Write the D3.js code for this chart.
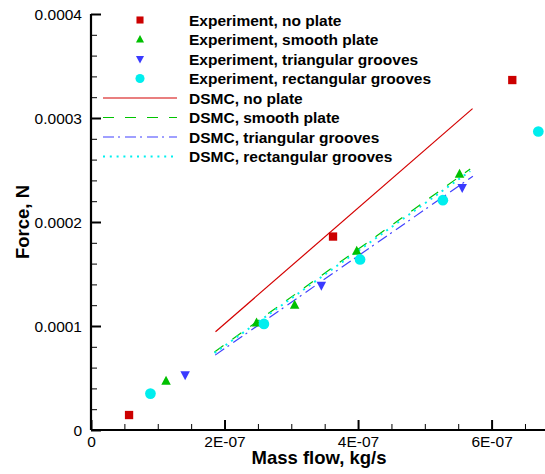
<!DOCTYPE html>
<html>
<head>
<meta charset="utf-8">
<script src="https://cdn.jsdelivr.net/npm/d3@7"></script>
<style>
  html, body { margin: 0; padding: 0; background: #fff; }
  svg { display: block; }
  text { font-family: "Liberation Sans", Arial, Helvetica, sans-serif; }
</style>
</head>
<body>
<svg id="chart" width="545" height="474"></svg>
<script>
// ---- data (mass flow in kg/s, force in N) ----
const expNoPlateX = [0.57e-7, 3.625e-7, 6.31e-7];
const expNoPlateY = [0.144e-4, 1.86e-4, 3.365e-4];
const expSmoothX = [1.124e-7, 2.48e-7, 3.05e-7, 3.98e-7, 5.52e-7];
const expSmoothY = [0.47e-4, 1.03e-4, 1.20e-4, 1.72e-4, 2.46e-4];
const expTriX = [1.41e-7, 3.45e-7, 5.56e-7];
const expTriY = [0.53e-4, 1.39e-4, 2.33e-4];
const expRectX = [0.89e-7, 2.59e-7, 4.03e-7, 5.27e-7, 6.70e-7];
const expRectY = [0.35e-4, 1.02e-4, 1.64e-4, 2.21e-4, 2.87e-4];

const dsmcNoPlateX = [1.865e-7, 5.715e-7];
const dsmcNoPlateY = [0.945e-4, 3.09e-4];
const dsmcSmoothX = [1.85e-7, 5.68e-7];
const dsmcSmoothY = [0.75e-4, 2.51e-4];
const dsmcTriX = [1.86e-7, 5.72e-7];
const dsmcTriY = [0.72e-4, 2.44e-4];
const dsmcRectX = [1.85e-7, 5.68e-7];
const dsmcRectY = [0.74e-4, 2.49e-4];

const xMajorTicks = [0, 2e-7, 4e-7, 6e-7];
const xTickLabels = ["0", "2E-07", "4E-07", "6E-07"];
const yMajorTicks = [0, 1e-4, 2e-4, 3e-4, 4e-4];
const yTickLabels = ["0", "0.0001", "0.0002", "0.0003", "0.0004"];

const legendLabels = [
  "Experiment, no plate",
  "Experiment, smooth plate",
  "Experiment, triangular grooves",
  "Experiment, rectangular grooves",
  "DSMC, no plate",
  "DSMC, smooth plate",
  "DSMC, triangular grooves",
  "DSMC, rectangular grooves"
];

// ---- setup ----
const svg = d3.select("#chart");
const x = d3.scaleLinear().domain([0, 6.8e-7]).range([91, 545]);
const y = d3.scaleLinear().domain([0, 4e-4]).range([430, 14]);

const RED = "#d40000", GREEN = "#00c400", BLUE = "#4040ff", CYAN = "#00f0f0";

// ---- axes ----
const xMinor = d3.range(0, 6.8e-7 + 1e-12, 0.5e-7).filter(v => xMajorTicks.every(m => Math.abs(m - v) > 1e-12));
const yMinor = d3.range(0, 4e-4 + 1e-12, 0.2e-4).filter(v => yMajorTicks.every(m => Math.abs(m - v) > 1e-12));

const gx = svg.append("g").attr("transform", "translate(0,430)");
gx.call(d3.axisBottom(x).tickValues(xMinor).tickSize(-6).tickFormat(""));
gx.call(g => g.select(".domain").remove());
const gx2 = svg.append("g").attr("transform", "translate(0,430)");
gx2.call(d3.axisBottom(x).tickValues(xMajorTicks).tickSize(-10).tickPadding(18)
  .tickFormat((d, i) => xTickLabels[i]));
gx2.select(".domain").attr("stroke-width", 2.2).attr("d", "M91,0H545");
gx2.selectAll(".tick line").attr("stroke-width", 2);
gx2.selectAll(".tick text").attr("font-size", "15.5px").attr("fill", "#000").attr("dy", 0).attr("y", 16.5);

const gy = svg.append("g").attr("transform", "translate(91,0)");
gy.call(d3.axisLeft(y).tickValues(yMinor).tickSize(-6).tickFormat(""));
gy.call(g => g.select(".domain").remove());
const gy2 = svg.append("g").attr("transform", "translate(91,0)");
gy2.call(d3.axisLeft(y).tickValues(yMajorTicks).tickSize(-10).tickPadding(9)
  .tickFormat((d, i) => yTickLabels[i]));
gy2.select(".domain").attr("stroke-width", 2.2).attr("d", "M0,14V430");
gy2.selectAll(".tick line").attr("stroke-width", 2);
gy2.selectAll(".tick text").attr("font-size", "15.5px").attr("fill", "#000").attr("x", -9).attr("dy", "0.35em");
svg.selectAll(".tick line").attr("stroke", "#000");

// axis titles
svg.append("text").attr("x", 319).attr("y", 464).attr("text-anchor", "middle")
  .attr("font-size", "18.5px").attr("font-weight", "bold").text("Mass flow, kg/s");
svg.append("text").attr("transform", "translate(29,222) rotate(-90)").attr("text-anchor", "middle")
  .attr("font-size", "18.5px").attr("font-weight", "bold").text("Force, N");

// ---- DSMC lines ----
const line = d3.line().x(d => x(d[0])).y(d => y(d[1]));
const dsmc = [
  { xs: dsmcNoPlateX, ys: dsmcNoPlateY, color: RED, dash: null, w: 1.2 },
  { xs: dsmcTriX, ys: dsmcTriY, color: BLUE, dash: "11,4,2,5", w: 1.2 },
  { xs: dsmcSmoothX, ys: dsmcSmoothY, color: GREEN, dash: "11,11", w: 1.2 },
  { xs: dsmcRectX, ys: dsmcRectY, color: CYAN, dash: "2,4.8", w: 2 }
];
dsmc.forEach(s => {
  svg.append("path").datum(s.xs.map((v, i) => [v, s.ys[i]]))
    .attr("d", line).attr("fill", "none").attr("stroke", s.color)
    .attr("stroke-width", s.w).attr("stroke-dasharray", s.dash);
});

// ---- experiment markers ----
function marker(sel, type, size) {
  if (type === "square") return sel.append("rect").attr("x", -size / 2).attr("y", -size / 2).attr("width", size).attr("height", size);
  if (type === "circle") return sel.append("circle").attr("r", size / 2);
  const h = size * 0.95, w = size;
  if (type === "up") return sel.append("path").attr("d", `M0,${-h * 0.6}L${w / 2},${h * 0.4}L${-w / 2},${h * 0.4}Z`);
  return sel.append("path").attr("d", `M0,${h * 0.6}L${w / 2},${-h * 0.4}L${-w / 2},${-h * 0.4}Z`);
}
const exps = [
  { xs: expNoPlateX, ys: expNoPlateY, color: "#cc0000", type: "square", size: 8.3 },
  { xs: expSmoothX, ys: expSmoothY, color: "#00c000", type: "up", size: 9.5 },
  { xs: expTriX, ys: expTriY, color: "#3a3aff", type: "down", size: 9.5 },
  { xs: expRectX, ys: expRectY, color: "#00eeee", type: "circle", size: 10.7 }
];
exps.forEach(s => {
  s.xs.forEach((v, i) => {
    const g = svg.append("g").attr("transform", `translate(${x(v)},${y(s.ys[i])})`);
    marker(g, s.type, s.size).attr("fill", s.color);
  });
});

// ---- legend ----
const leg = svg.append("g");
legendLabels.forEach((lab, i) => {
  const cy = 20 + i * 19.5;
  if (i < 4) {
    const s = exps[i];
    const g = leg.append("g").attr("transform", `translate(140,${cy})`);
    marker(g, s.type, s.size * 0.85).attr("fill", s.color);
  } else {
    const s = [dsmc[0], dsmc[2], dsmc[1], dsmc[3]][i - 4];
    leg.append("line").attr("x1", 103).attr("x2", i === 7 ? 174 : 177).attr("y1", cy).attr("y2", cy)
      .attr("stroke", s.color).attr("stroke-width", s.w).attr("stroke-dasharray", s.dash);
  }
  leg.append("text").attr("x", 189).attr("y", cy + 5.7).attr("font-size", "15.5px")
    .attr("font-weight", "bold").text(lab);
});
</script>
</body>
</html>
